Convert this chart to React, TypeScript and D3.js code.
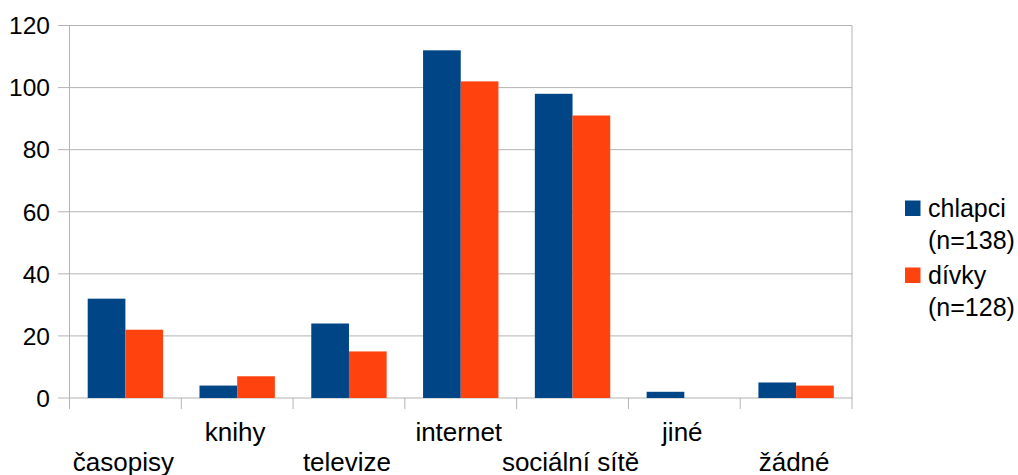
import React from "react";
import * as d3 from "d3";

const categories = ["časopisy", "knihy", "televize", "internet", "sociální sítě", "jiné", "žádné"];
const chlapci = [32, 4, 24, 112, 98, 2, 5];
const divky = [22, 7, 15, 102, 91, 0, 4];
const seriesNames = ["chlapci", "dívky"];
const seriesLabels = [["chlapci", "(n=138)"], ["dívky", "(n=128)"]];
const seriesColors = ["#004586", "#ff420e"];
const yTicks = [0, 20, 40, 60, 80, 100, 120];

const W = 1018;
const H = 475;
const left = 69.5;
const right = 852;
const top = 25.5;
const bottom = 398;
const FONT = "'Liberation Sans', Arial, sans-serif";

export default function App() {
  const x0 = d3.scaleBand<string>().domain(categories).range([left, right]).padding(0);
  const x1 = d3
    .scaleBand<string>()
    .domain(seriesNames)
    .range([0, x0.bandwidth()])
    .paddingInner(0)
    .paddingOuter(0.483);
  const y = d3.scaleLinear().domain([0, 120]).range([bottom, top]);
  const values = [chlapci, divky];
  const grid = "#b3b3b3";
  const bounds = [...categories.map((c) => x0(c)!), right];

  return (
    <svg
      width={W}
      height={H}
      style={{ position: "absolute", left: 0, top: 0, background: "#fff" }}
      fontFamily={FONT}
    >
      {yTicks.map((t) => (
        <g key={t}>
          <line x1={58} x2={right} y1={y(t)} y2={y(t)} stroke={grid} strokeWidth={1} />
          <text
            x={50}
            y={y(t)}
            dy="0.36em"
            textAnchor="end"
            fontSize={24.5}
            fill="#000"
          >
            {t}
          </text>
        </g>
      ))}
      {bounds.map((b, i) => (
        <line key={i} x1={b} x2={b} y1={i === 0 || i === bounds.length - 1 ? top : bottom} y2={409} stroke={grid} strokeWidth={1} />
      ))}
      {categories.map((c, ci) =>
        values.map((vals, si) => {
          const v = vals[ci];
          if (v <= 0) return null;
          return (
            <rect
              key={c + si}
              x={x0(c)! + x1(seriesNames[si])!}
              width={x1.bandwidth()}
              y={y(v)}
              height={y(0) - y(v)}
              fill={seriesColors[si]}
            />
          );
        })
      )}
      {categories.map((c, ci) => (
        <text
          key={c}
          x={x0(c)! + x0.bandwidth() / 2 - 2}
          y={ci % 2 === 0 ? 471 : 441}
          textAnchor="middle"
          fontSize={26}
          fill="#000"
        >
          {c}
        </text>
      ))}
      {seriesLabels.map((lab, i) => {
        const by = 217 + i * 67;
        return (
          <g key={i}>
            <rect x={905} y={by - 16.5} width={15.5} height={15.5} fill={seriesColors[i]} />
            <text x={928} y={by} fontSize={25} fill="#000">
              {lab[0]}
            </text>
            <text x={928} y={by + 32} fontSize={25} fill="#000">
              {lab[1]}
            </text>
          </g>
        );
      })}
    </svg>
  );
}
